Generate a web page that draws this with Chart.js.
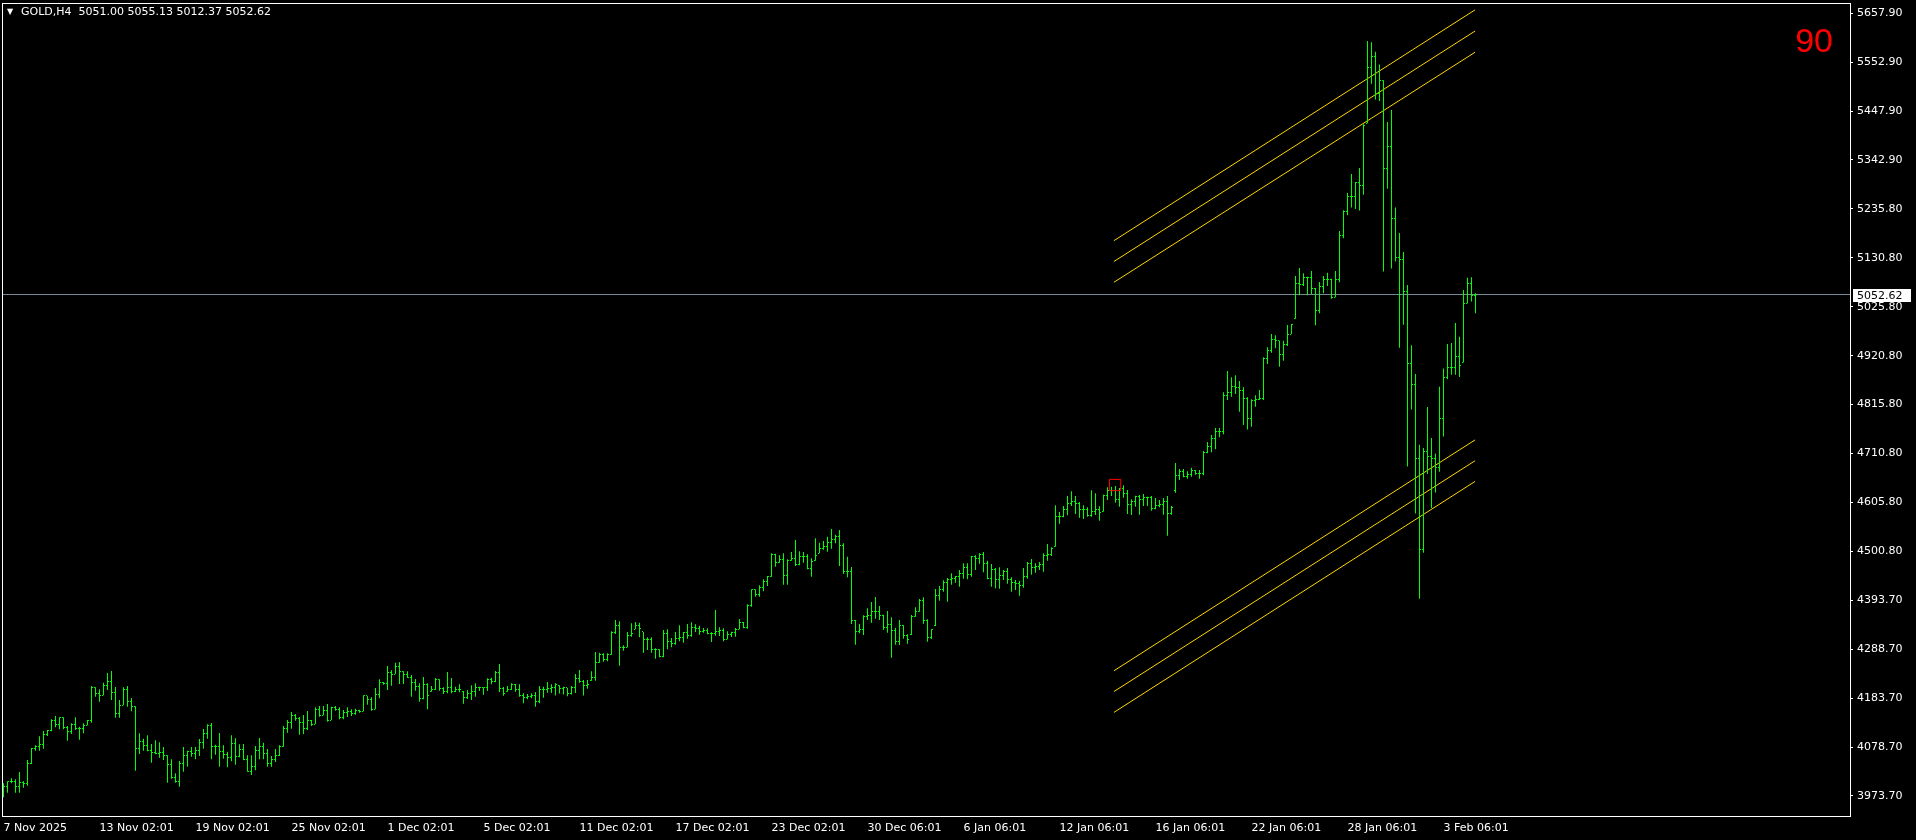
<!DOCTYPE html>
<html>
<head>
<meta charset="utf-8">
<title>GOLD,H4</title>
<script src="https://cdn.jsdelivr.net/npm/chart.js@4.4.1/dist/chart.umd.min.js"></script>
<style>
    html, body { margin: 0; padding: 0; background: #000; overflow: hidden; }
    #wrap { position: relative; width: 1916px; height: 840px; }
</style>
</head>
<body>
<div id="wrap"><canvas id="goldChart" width="1916" height="840"></canvas></div>
<script>
const symbolName = 'GOLD,H4';
const signalText = '90';

// time axis labels and the bar each one sits on
const timeLabels = ['7 Nov 2025', '13 Nov 02:01', '19 Nov 02:01', '25 Nov 02:01', '1 Dec 02:01', '5 Dec 02:01',
    '11 Dec 02:01', '17 Dec 02:01', '23 Dec 02:01', '30 Dec 06:01', '6 Jan 06:01', '12 Jan 06:01',
    '16 Jan 06:01', '22 Jan 06:01', '28 Jan 06:01', '3 Feb 06:01'];
const timeLabelBars = [0, 24, 48, 72, 96, 120, 144, 168, 192, 216, 240, 264, 288, 312, 336, 360];

// price scale labels, bottom to top
const priceLabels = ['3973.70', '4078.70', '4183.70', '4288.70', '4393.70', '4500.80', '4605.80', '4710.80',
    '4815.80', '4920.80', '5025.80', '5130.80', '5235.80', '5342.90', '5447.90', '5552.90', '5657.90'];
const priceLabelLow = 3973.70;
const priceLabelHigh = 5657.90;

// H4 bars
const opens = [
    3985.0, 3993.0, 4003.8, 4005.2, 3993.0, 4003.1, 3999.5, 4043.2, 4074.8, 4079.8,
    4084.8, 4105.6, 4114.2, 4135.0, 4127.9, 4141.5, 4121.4, 4111.4, 4126.4, 4118.5,
    4119.2, 4125.7, 4135.0, 4206.7, 4193.1, 4190.2, 4210.3, 4220.4, 4195.3, 4152.2,
    4168.7, 4203.2, 4175.9, 4166.6, 4074.8, 4090.0, 4081.9, 4071.2, 4066.9, 4065.0,
    4067.6, 4061.1, 4041.8, 4012.5, 4004.5, 4043.9, 4061.1, 4069.7, 4064.7, 4072.6,
    4089.1, 4107.8, 4125.7, 4080.5, 4081.2, 4069.7, 4063.3, 4056.8, 4087.0, 4059.0,
    4074.0, 4053.2, 4027.4, 4037.5, 4072.6, 4080.5, 4065.4, 4042.5, 4052.0, 4061.1,
    4081.2, 4119.2, 4132.1, 4145.8, 4140.0, 4130.7, 4119.2, 4137.1, 4128.5, 4158.7,
    4147.2, 4157.2, 4137.1, 4163.0, 4160.1, 4142.2, 4153.6, 4154.4, 4150.1, 4157.2,
    4155.8, 4188.8, 4182.3, 4160.1, 4191.6, 4218.9, 4216.0, 4239.7, 4236.1, 4251.2,
    4241.9, 4235.4, 4228.9, 4218.9, 4209.6, 4183.8, 4213.9, 4198.1, 4203.1, 4224.6,
    4204.6, 4197.4, 4207.4, 4198.1, 4203.1, 4199.5, 4185.9, 4194.5, 4198.8, 4206.0,
    4206.0, 4206.0, 4224.6, 4220.3, 4240.4, 4205.3, 4198.1, 4203.8, 4214.6, 4201.7,
    4188.8, 4185.9, 4187.3, 4188.8, 4176.6, 4201.7, 4201.7, 4205.3, 4206.0, 4211.7,
    4205.3, 4206.0, 4195.0, 4207.4, 4226.8, 4219.6, 4211.0, 4221.8, 4228.9, 4261.2,
    4277.0, 4267.7, 4279.1, 4325.0, 4340.8, 4293.5, 4293.5, 4320.0, 4332.2, 4340.8,
    4326.5, 4311.4, 4309.3, 4289.2, 4287.8, 4273.4, 4322.2, 4305.0, 4300.7, 4312.9,
    4313.6, 4325.1, 4317.9, 4336.5, 4333.7, 4327.2, 4329.4, 4323.6, 4324.3, 4327.9,
    4329.4, 4310.7, 4320.8, 4325.1, 4332.2, 4345.9, 4336.5, 4383.2, 4416.9, 4406.8,
    4421.2, 4434.1, 4445.6, 4494.3, 4476.4, 4482.9, 4448.4, 4480.0, 4484.3, 4471.4,
    4488.6, 4487.9, 4463.5, 4480.0, 4495.8, 4505.8, 4510.1, 4518.7, 4525.9, 4531.6,
    4511.6, 4456.3, 4457.0, 4350.2, 4327.9, 4330.8, 4359.5, 4362.4, 4369.6, 4369.6,
    4362.4, 4336.6, 4343.0, 4328.7, 4306.4, 4340.9, 4319.3, 4320.1, 4360.2, 4371.0,
    4394.7, 4352.3, 4315.0, 4339.4, 4405.4, 4416.9, 4433.4, 4439.8, 4441.2, 4445.6,
    4451.3, 4465.6, 4450.6, 4488.6, 4485.0, 4493.6, 4474.2, 4442.0, 4461.3, 4440.5,
    4448.4, 4457.0, 4439.8, 4433.3, 4429.8, 4426.2, 4445.6, 4474.2, 4466.3, 4467.0,
    4471.4, 4491.4, 4494.3, 4510.1, 4575.3, 4575.3, 4590.4, 4603.3, 4607.6, 4603.3,
    4590.4, 4590.4, 4577.5, 4586.1, 4590.4, 4585.4, 4620.5, 4632.0, 4630.5, 4611.9,
    4634.9, 4624.8, 4601.8, 4607.6, 4617.6, 4611.9, 4615.5, 4616.2, 4592.5, 4597.6,
    4601.8, 4607.6, 4581.8, 4630.0, 4663.5, 4672.2, 4662.1, 4666.4, 4675.0, 4667.9,
    4667.9, 4713.7, 4726.6, 4742.4, 4756.8, 4756.8, 4835.6, 4842.8, 4854.3, 4852.9,
    4847.1, 4829.9, 4785.4, 4825.6, 4827.0, 4829.9, 4914.5, 4931.8, 4956.1, 4953.3,
    4924.6, 4944.6, 4967.6, 5000.6, 5076.6, 5075.2, 5089.5, 5089.5, 5066.6, 5019.2,
    5069.4, 5085.2, 5085.2, 5046.5, 5085.2, 5179.9, 5232.2, 5263.1, 5263.5, 5293.8,
    5287.4, 5421.1, 5541.3, 5565.2, 5484.8, 5513.4, 5324.0, 5371.8, 5216.0, 5132.0,
    5128.2, 5060.0, 4905.0, 4860.0, 4700.0, 4505.0, 4715.0, 4703.9, 4699.9, 4680.0,
    4785.9, 4873.5, 4895.7, 4895.7, 4919.6, 4906.1, 5033.5, 5075.6, 5051.00
];
const highs = [
    4000.9, 4005.2, 4011.7, 4009.5, 4025.3, 4005.2, 4051.1, 4076.9, 4082.7, 4102.0,
    4113.5, 4115.7, 4138.6, 4145.8, 4142.9, 4142.9, 4124.3, 4130.0, 4142.9, 4122.8,
    4130.0, 4137.2, 4210.3, 4207.5, 4203.2, 4217.5, 4238.3, 4242.6, 4208.2, 4180.2,
    4207.5, 4210.3, 4184.5, 4166.6, 4108.5, 4097.0, 4104.2, 4085.5, 4093.4, 4089.1,
    4079.1, 4061.1, 4052.5, 4022.4, 4048.9, 4079.1, 4071.2, 4079.1, 4079.1, 4096.3,
    4117.8, 4127.8, 4130.7, 4084.1, 4109.2, 4082.6, 4069.0, 4104.2, 4097.7, 4084.8,
    4085.5, 4061.1, 4061.1, 4081.2, 4098.4, 4088.4, 4074.8, 4059.7, 4074.7, 4082.6,
    4124.2, 4137.1, 4154.4, 4150.1, 4143.6, 4147.9, 4156.5, 4137.1, 4164.4, 4167.3,
    4167.3, 4171.6, 4165.8, 4167.3, 4164.4, 4158.7, 4164.4, 4160.1, 4161.5, 4159.4,
    4190.2, 4188.8, 4185.9, 4206.0, 4224.6, 4218.9, 4253.3, 4244.0, 4260.5, 4261.9,
    4241.9, 4241.9, 4234.0, 4225.4, 4216.0, 4229.6, 4216.0, 4210.3, 4227.5, 4224.6,
    4207.4, 4240.4, 4227.5, 4208.8, 4213.9, 4199.5, 4201.7, 4211.7, 4216.0, 4208.8,
    4207.4, 4226.8, 4228.2, 4242.6, 4257.6, 4208.1, 4210.3, 4216.0, 4214.6, 4213.9,
    4194.5, 4193.1, 4194.5, 4197.4, 4210.3, 4208.8, 4218.9, 4213.9, 4216.0, 4211.7,
    4208.8, 4206.0, 4210.3, 4236.1, 4244.7, 4223.2, 4223.2, 4241.9, 4283.4, 4282.0,
    4280.6, 4280.6, 4327.9, 4352.3, 4349.4, 4297.8, 4326.5, 4345.1, 4348.0, 4346.6,
    4326.5, 4315.0, 4315.0, 4291.3, 4289.2, 4330.8, 4332.2, 4313.6, 4326.5, 4340.8,
    4326.5, 4343.7, 4347.3, 4343.0, 4340.1, 4335.1, 4334.4, 4325.8, 4373.8, 4336.5,
    4334.4, 4327.9, 4327.2, 4335.1, 4354.5, 4348.0, 4386.0, 4418.3, 4418.3, 4426.9,
    4439.8, 4447.0, 4495.8, 4495.0, 4491.5, 4495.8, 4482.9, 4498.6, 4524.5, 4500.1,
    4498.6, 4493.6, 4485.0, 4528.1, 4518.7, 4522.3, 4531.6, 4548.1, 4535.9, 4546.0,
    4517.3, 4488.6, 4466.4, 4352.3, 4343.7, 4362.4, 4377.4, 4391.1, 4401.8, 4382.5,
    4363.8, 4371.7, 4358.1, 4335.8, 4352.3, 4340.9, 4321.5, 4363.1, 4379.6, 4397.5,
    4401.1, 4353.8, 4332.3, 4419.0, 4425.5, 4437.7, 4442.7, 4452.7, 4447.0, 4459.9,
    4474.2, 4474.2, 4490.0, 4491.4, 4495.7, 4498.6, 4480.0, 4472.8, 4464.2, 4465.6,
    4459.9, 4464.2, 4444.1, 4438.4, 4436.9, 4464.2, 4477.1, 4483.6, 4474.2, 4477.1,
    4495.7, 4515.8, 4508.6, 4599.0, 4584.7, 4597.6, 4619.1, 4629.1, 4619.1, 4606.2,
    4599.0, 4594.7, 4631.3, 4624.8, 4596.8, 4621.9, 4637.7, 4639.2, 4640.6, 4636.3,
    4642.0, 4632.0, 4611.9, 4619.8, 4621.2, 4623.4, 4617.6, 4619.1, 4614.8, 4610.5,
    4614.8, 4619.1, 4597.6, 4690.1, 4677.2, 4677.2, 4672.2, 4680.0, 4675.0, 4675.0,
    4715.9, 4735.2, 4750.3, 4765.4, 4765.4, 4842.1, 4888.0, 4874.4, 4878.7, 4866.5,
    4852.9, 4831.3, 4827.0, 4835.6, 4847.1, 4917.4, 4938.9, 4967.6, 4964.7, 4953.3,
    4953.3, 4987.0, 4989.1, 5092.4, 5109.6, 5098.1, 5090.9, 5103.1, 5066.6, 5079.5,
    5092.4, 5099.6, 5086.7, 5103.1, 5189.2, 5233.7, 5271.0, 5312.1, 5294.5, 5324.8,
    5418.7, 5597.8, 5595.4, 5574.7, 5547.7, 5513.4, 5423.5, 5449.8, 5239.6, 5184.7,
    5144.1, 5073.3, 4943.5, 4881.4, 4729.4, 4722.2, 4810.6, 4743.7, 4710.3, 4854.4,
    4893.4, 4945.9, 4948.3, 4991.3, 4961.8, 5062.1, 5088.4, 5090.0, 5055.13
];
const lows = [
    3970.8, 3980.8, 4000.9, 3980.8, 3980.8, 3991.6, 3995.9, 4042.5, 4071.2, 4071.2,
    4075.5, 4102.7, 4112.8, 4121.4, 4117.1, 4117.1, 4092.7, 4107.1, 4115.7, 4094.9,
    4108.5, 4125.7, 4131.4, 4187.4, 4176.6, 4190.2, 4201.7, 4180.2, 4142.2, 4142.2,
    4168.7, 4165.9, 4155.8, 4028.2, 4064.0, 4071.2, 4069.7, 4045.4, 4063.3, 4056.1,
    4051.1, 4002.3, 4010.9, 4002.3, 3993.7, 4026.0, 4036.7, 4058.3, 4052.5, 4059.7,
    4075.5, 4097.0, 4052.5, 4062.6, 4036.7, 4054.0, 4035.3, 4048.2, 4041.1, 4056.8,
    4050.4, 4026.0, 4018.8, 4028.9, 4052.5, 4052.5, 4036.7, 4036.7, 4046.8, 4059.7,
    4079.8, 4109.9, 4118.5, 4135.7, 4105.6, 4107.0, 4115.6, 4124.2, 4128.5, 4144.3,
    4147.2, 4133.5, 4137.1, 4157.2, 4138.6, 4138.6, 4143.6, 4145.8, 4148.6, 4152.9,
    4155.8, 4170.1, 4157.2, 4160.1, 4183.8, 4213.2, 4201.7, 4211.0, 4236.1, 4214.6,
    4214.6, 4227.5, 4187.3, 4200.3, 4176.6, 4181.6, 4160.1, 4198.1, 4201.7, 4200.3,
    4193.1, 4194.5, 4194.5, 4197.4, 4196.7, 4172.3, 4182.3, 4180.2, 4187.3, 4199.5,
    4191.6, 4199.5, 4213.9, 4218.2, 4197.4, 4189.5, 4198.1, 4201.7, 4198.1, 4187.3,
    4173.0, 4181.6, 4183.8, 4165.8, 4173.0, 4185.2, 4196.0, 4195.0, 4190.0, 4194.0,
    4192.0, 4188.0, 4192.0, 4195.0, 4217.5, 4190.0, 4204.6, 4221.8, 4221.8, 4260.5,
    4262.6, 4263.4, 4277.7, 4322.2, 4254.0, 4286.3, 4293.5, 4316.4, 4332.2, 4315.0,
    4282.0, 4287.8, 4282.0, 4269.1, 4272.0, 4272.0, 4289.2, 4293.5, 4299.2, 4306.4,
    4303.5, 4312.2, 4316.5, 4326.5, 4320.8, 4325.1, 4321.5, 4305.0, 4318.6, 4317.9,
    4306.4, 4310.7, 4315.7, 4316.5, 4332.2, 4334.4, 4333.7, 4381.0, 4402.5, 4402.5,
    4414.0, 4425.5, 4445.6, 4467.1, 4475.7, 4428.3, 4428.3, 4480.0, 4468.5, 4469.9,
    4475.7, 4461.3, 4445.6, 4480.0, 4495.8, 4503.7, 4499.4, 4505.8, 4517.3, 4468.5,
    4451.3, 4444.1, 4343.7, 4299.3, 4323.6, 4320.1, 4352.3, 4346.6, 4355.2, 4352.3,
    4330.8, 4325.1, 4271.3, 4299.3, 4298.5, 4312.2, 4301.4, 4320.1, 4359.5, 4370.3,
    4344.4, 4305.7, 4311.5, 4339.4, 4393.9, 4413.3, 4391.8, 4428.3, 4432.6, 4424.0,
    4441.2, 4439.8, 4445.6, 4459.9, 4473.5, 4454.9, 4439.8, 4424.0, 4420.4, 4419.7,
    4438.4, 4430.5, 4413.2, 4416.8, 4404.6, 4421.9, 4441.2, 4449.8, 4454.1, 4459.9,
    4456.3, 4480.0, 4490.0, 4510.1, 4559.6, 4573.2, 4577.5, 4597.6, 4580.4, 4572.5,
    4569.6, 4574.6, 4574.6, 4578.2, 4566.0, 4585.4, 4610.5, 4619.1, 4604.7, 4596.1,
    4615.5, 4580.3, 4578.2, 4596.1, 4578.9, 4597.6, 4597.6, 4587.5, 4590.4, 4594.7,
    4578.9, 4533.7, 4578.9, 4626.2, 4653.5, 4659.2, 4656.4, 4660.7, 4665.0, 4656.4,
    4663.5, 4710.9, 4713.0, 4719.5, 4745.3, 4752.0, 4825.6, 4832.8, 4838.5, 4800.5,
    4772.0, 4762.0, 4768.0, 4811.2, 4825.6, 4825.6, 4903.1, 4927.4, 4936.8, 4897.3,
    4910.2, 4941.8, 4967.6, 5000.6, 5050.8, 5070.9, 5050.8, 5053.7, 4986.2, 5012.1,
    5055.1, 5070.9, 5043.6, 5046.5, 5078.8, 5173.4, 5222.9, 5240.0, 5236.4, 5233.3,
    5267.5, 5421.1, 5506.3, 5472.1, 5468.9, 5101.9, 5280.2, 5108.3, 5123.4, 4937.9,
    4987.3, 4682.4, 4805.0, 4581.3, 4398.2, 4497.0, 4666.5, 4593.3, 4626.7, 4671.3,
    4746.9, 4870.3, 4879.8, 4879.8, 4875.1, 4906.1, 5033.5, 5037.4, 5012.37
];
const closes = [
    3993.0, 4003.8, 4005.2, 3993.0, 4003.1, 3999.5, 4043.2, 4074.8, 4079.8, 4084.8,
    4105.6, 4114.2, 4135.0, 4127.9, 4141.5, 4121.4, 4111.4, 4126.4, 4118.5, 4119.2,
    4125.7, 4135.0, 4206.7, 4193.1, 4190.2, 4210.3, 4220.4, 4195.3, 4152.2, 4168.7,
    4203.2, 4175.9, 4166.6, 4074.8, 4090.0, 4081.9, 4071.2, 4066.9, 4065.0, 4067.6,
    4061.1, 4041.8, 4012.5, 4004.5, 4043.9, 4061.1, 4069.7, 4064.7, 4072.6, 4089.1,
    4107.8, 4125.7, 4080.5, 4081.2, 4069.7, 4063.3, 4056.8, 4087.0, 4059.0, 4074.0,
    4053.2, 4027.4, 4037.5, 4072.6, 4080.5, 4065.4, 4042.5, 4052.0, 4061.1, 4081.2,
    4119.2, 4132.1, 4145.8, 4140.0, 4130.7, 4119.2, 4137.1, 4127.8, 4158.7, 4146.5,
    4157.2, 4137.1, 4163.0, 4160.1, 4142.2, 4153.6, 4154.4, 4150.1, 4157.2, 4154.4,
    4188.8, 4182.3, 4160.1, 4191.6, 4218.9, 4216.0, 4239.7, 4236.1, 4251.2, 4241.9,
    4235.4, 4228.9, 4218.9, 4209.6, 4183.8, 4213.9, 4189.5, 4203.1, 4224.6, 4204.6,
    4197.4, 4207.4, 4198.1, 4203.1, 4203.1, 4185.9, 4194.5, 4198.8, 4206.0, 4206.0,
    4206.0, 4224.6, 4220.3, 4240.4, 4205.3, 4193.8, 4203.8, 4214.6, 4201.7, 4188.8,
    4185.9, 4187.3, 4188.8, 4176.6, 4201.7, 4201.7, 4205.3, 4206.0, 4214.6, 4205.3,
    4206.0, 4195.0, 4207.4, 4226.8, 4219.6, 4211.0, 4214.6, 4228.9, 4261.2, 4277.0,
    4267.7, 4279.1, 4325.0, 4340.8, 4293.5, 4293.5, 4320.0, 4324.3, 4340.8, 4333.7,
    4311.4, 4309.3, 4289.2, 4287.8, 4273.4, 4322.2, 4305.0, 4300.7, 4312.9, 4313.6,
    4325.1, 4317.9, 4336.5, 4333.7, 4327.2, 4329.4, 4323.6, 4324.3, 4327.9, 4329.4,
    4310.7, 4320.8, 4325.1, 4332.2, 4345.9, 4336.5, 4383.2, 4416.9, 4406.8, 4421.2,
    4434.1, 4445.6, 4494.3, 4476.4, 4482.9, 4448.4, 4480.0, 4484.3, 4471.4, 4488.6,
    4487.9, 4463.5, 4477.8, 4490.0, 4505.8, 4510.1, 4518.7, 4525.9, 4531.6, 4511.6,
    4456.3, 4457.0, 4350.2, 4327.9, 4330.8, 4359.5, 4362.4, 4369.6, 4369.6, 4362.4,
    4336.6, 4343.0, 4328.7, 4306.4, 4340.9, 4319.3, 4310.7, 4360.2, 4371.0, 4394.7,
    4352.3, 4315.0, 4330.8, 4405.4, 4416.9, 4433.4, 4439.8, 4441.2, 4445.6, 4451.3,
    4465.6, 4450.6, 4488.6, 4485.0, 4493.6, 4474.2, 4442.0, 4461.3, 4440.5, 4448.4,
    4457.0, 4439.8, 4433.3, 4429.8, 4426.2, 4445.6, 4474.2, 4466.3, 4467.0, 4471.4,
    4491.4, 4494.3, 4505.8, 4575.3, 4575.3, 4590.4, 4603.3, 4607.6, 4603.3, 4590.4,
    4590.4, 4577.5, 4586.1, 4590.4, 4584.6, 4620.5, 4632.0, 4630.5, 4611.9, 4634.9,
    4624.8, 4601.8, 4607.6, 4617.6, 4611.9, 4615.5, 4616.2, 4592.5, 4597.6, 4601.8,
    4607.6, 4581.8, 4594.7, 4663.5, 4672.2, 4662.1, 4666.4, 4675.0, 4667.9, 4667.9,
    4713.7, 4726.6, 4742.4, 4756.8, 4756.8, 4835.6, 4842.8, 4854.3, 4852.9, 4847.1,
    4829.9, 4785.4, 4825.6, 4827.0, 4829.9, 4914.5, 4931.8, 4956.1, 4953.3, 4924.6,
    4944.6, 4967.6, 4988.4, 5076.6, 5075.2, 5089.5, 5089.5, 5066.6, 5019.2, 5069.4,
    5085.2, 5085.2, 5046.5, 5085.2, 5179.9, 5232.2, 5263.1, 5263.5, 5293.8, 5287.4,
    5416.3, 5541.3, 5565.2, 5484.8, 5513.4, 5324.0, 5371.8, 5216.0, 5132.0, 5128.2,
    5060.0, 4905.0, 4860.0, 4700.0, 4505.0, 4715.0, 4703.9, 4699.9, 4680.0, 4785.9,
    4873.5, 4895.7, 4895.7, 4919.6, 4898.9, 5033.5, 5075.6, 5051.5, 5052.62
];

// equidistant channels drawn on the chart (bar index at both ends, price at both ends)
const channelBars = [277.6, 367.9];
const upperChannel = [[5168.4, 5665.1], [5123.6, 5619.5], [5078.9, 5573.9]];
const lowerChannel = [[4243.0, 4739.8], [4198.3, 4695.0], [4153.5, 4650.5]];

// red marker object
const markerBar = 277.9;
const markerPrice = 4642.7;

// visible window
const xMin = -0.375;
const xMax = 461.625;
const yMin = 3930.6;
const yMax = 5679.8;

const barColor = '#00ff00';
const channelColor = '#ffd700';
const bidColor = '#778899';

// 3x1 images used as the open (left) and close (right) ticks of each bar
function tickImage(side) {
    const c = document.createElement('canvas');
    c.width = 3;
    c.height = 1;
    const g = c.getContext('2d');
    g.fillStyle = barColor;
    g.fillRect(side === 'left' ? 0 : 2, 0, 1, 1);
    return c;
}

const barIdx = closes.map((_, i) => i);
const last = closes.length - 1;

function channelDataset(pair) {
    return {
        type: 'line',
        data: [{x: channelBars[0], y: pair[0]}, {x: channelBars[1], y: pair[1]}],
        borderColor: channelColor,
        borderWidth: 1,
        pointRadius: 0,
        fill: false,
        order: 4
    };
}

const terminalOverlay = {
    id: 'terminalOverlay',
    beforeDatasetsDraw(chart) {
        chart.ctx.imageSmoothingEnabled = false;
    },
    afterDraw(chart) {
        const {ctx, chartArea: a, scales} = chart;
        ctx.save();

        // chart frame
        ctx.strokeStyle = '#ffffff';
        ctx.lineWidth = 1;
        ctx.strokeRect(a.left + 0.5, a.top + 0.5, a.right - a.left, a.bottom - a.top);

        // symbol line
        ctx.fillStyle = '#ffffff';
        ctx.textBaseline = 'middle';
        ctx.textAlign = 'left';
        ctx.font = '8px "DejaVu Sans"';
        ctx.fillText('\u25BC', a.left + 5, a.top + 9);
        ctx.font = '11px "DejaVu Sans"';
        const header = symbolName + '  ' + [opens[last], highs[last], lows[last], closes[last]]
            .map(v => v.toFixed(2)).join(' ');
        ctx.fillText(header, a.left + 19, a.top + 9);

        // signal label
        ctx.fillStyle = '#ff0000';
        ctx.font = '34px "Liberation Sans"';
        ctx.textAlign = 'right';
        ctx.fillText(signalText, a.right - 17, a.top + 40);

        // current price tag on the price scale
        const y = Math.round(scales.y.getPixelForValue(closes[last]));
        ctx.fillStyle = '#ffffff';
        ctx.fillRect(a.right + 3, y - 6, 58, 13);
        ctx.fillStyle = '#000000';
        ctx.font = '11px "DejaVu Sans"';
        ctx.textAlign = 'left';
        ctx.fillText(closes[last].toFixed(2), a.right + 7, y + 1);

        ctx.restore();
    }
};

new Chart(document.getElementById('goldChart'), {
    type: 'bar',
    data: {
        datasets: [
            {
                type: 'line',
                data: [{x: xMin, y: closes[last]}, {x: xMax, y: closes[last]}],
                borderColor: bidColor,
                borderWidth: 1,
                pointRadius: 0,
                order: 5
            },
            ...upperChannel.map(channelDataset),
            ...lowerChannel.map(channelDataset),
            {
                type: 'bar',
                data: barIdx.map(i => ({x: i, y: [lows[i], highs[i]]})),
                backgroundColor: barColor,
                borderWidth: 0,
                barThickness: 1,
                inflateAmount: 0,
                order: 3
            },
            {
                type: 'scatter',
                data: barIdx.map(i => ({x: i, y: opens[i]})),
                pointStyle: tickImage('left'),
                pointRadius: 1,
                order: 2
            },
            {
                type: 'scatter',
                data: barIdx.map(i => ({x: i, y: closes[i]})),
                pointStyle: tickImage('right'),
                pointRadius: 1,
                order: 2
            },
            {
                type: 'scatter',
                data: [{x: markerBar, y: markerPrice}],
                pointStyle: 'rect',
                pointRadius: 8,
                borderColor: '#ff0000',
                borderWidth: 1,
                backgroundColor: 'rgba(0,0,0,0)',
                order: 1
            }
        ]
    },
    options: {
        responsive: false,
        devicePixelRatio: 1,
        animation: false,
        events: [],
        layout: {
            autoPadding: false,
            padding: {left: 2, top: 3, right: 0, bottom: 0}
        },
        plugins: {
            legend: {display: false},
            tooltip: {enabled: false}
        },
        scales: {
            x: {
                type: 'linear',
                min: xMin,
                max: xMax,
                offset: false,
                afterFit: scale => {
                    scale.height = 24;
                    scale.paddingLeft = 0;
                    scale.paddingRight = 0;
                },
                afterBuildTicks: scale => {
                    scale.ticks = timeLabelBars.map(b => ({value: b}));
                },
                grid: {display: false, drawTicks: true, tickLength: 0},
                border: {display: false},
                ticks: {
                    autoSkip: false,
                    maxRotation: 0,
                    minRotation: 0,
                    align: 'start',
                    padding: 6,
                    color: '#ffffff',
                    font: {family: 'DejaVu Sans', size: 11},
                    callback: (value, index) => timeLabels[index]
                }
            },
            y: {
                type: 'linear',
                position: 'right',
                min: yMin,
                max: yMax,
                afterFit: scale => {
                    scale.width = 66;
                    scale.paddingTop = 0;
                    scale.paddingBottom = 0;
                },
                afterBuildTicks: scale => {
                    const step = (priceLabelHigh - priceLabelLow) / (priceLabels.length - 1);
                    scale.ticks = priceLabels.map((_, k) => ({value: priceLabelLow + k * step}));
                },
                grid: {display: true, drawOnChartArea: false, drawTicks: true, tickLength: 3, color: '#ffffff'},
                border: {display: false},
                ticks: {
                    autoSkip: false,
                    padding: 4,
                    color: '#ffffff',
                    font: {family: 'DejaVu Sans', size: 11},
                    callback: (value, index) => priceLabels[index]
                }
            }
        }
    },
    plugins: [terminalOverlay]
});
</script>
</body>
</html>
